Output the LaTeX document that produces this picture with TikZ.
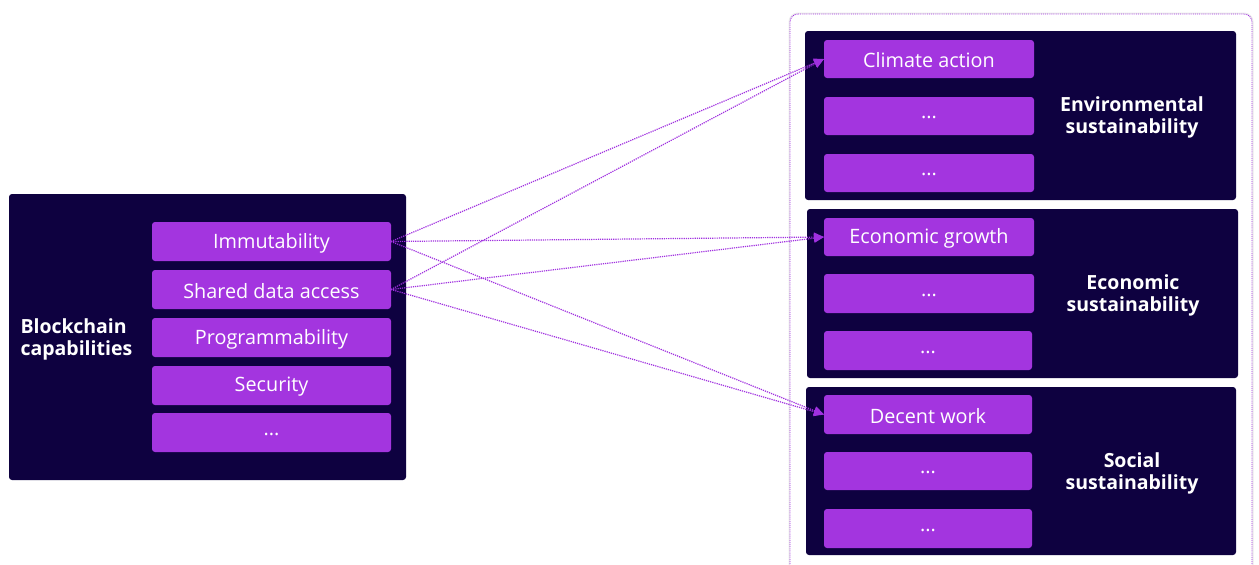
\documentclass[tikz,border=0pt]{standalone}
\usepackage{fontspec}
\setmainfont{Open Sans}
\usetikzlibrary{arrows.meta}
\definecolor{navy}{HTML}{0E0140}
\definecolor{vio}{HTML}{A335DF}
\definecolor{lnk}{HTML}{A030E0}
\tikzset{
  panel/.style={fill=navy, rounded corners=3pt, draw=none},
  item/.style={fill=vio, rounded corners=3pt},
  itxt/.style={text=white, font=\fontsize{19.8}{22}\selectfont},
  ttl/.style={text=white, font=\bfseries\fontsize{19.5}{22}\selectfont, align=center},
  link/.style={draw=lnk, densely dotted, line width=1.2pt, -{Triangle[length=10pt,width=9pt]}},
}
\newcommand{\itm}[6]{\path[item] (#2,#3) rectangle (#4,#5); \node[itxt] (#1) at ({(#2+#4)/2},{(#3+#5)/2+1.5}) {#6}; \coordinate (#1-w) at (#2,{(#3+#5)/2}); \coordinate (#1-e) at (#4,{(#3+#5)/2});}
\begin{document}
\begin{tikzpicture}[x=1pt,y=-1pt]
\useasboundingbox (0,0) rectangle (1259,565);
\fill[white] (0,0) rectangle (1259,565);
% outer dotted box with shadow
\draw[gray!15, line width=3pt, rounded corners=8pt] (790,14) -- (1252,14) -- (1252,600) -- (790,600) -- cycle;
\fill[white, rounded corners=8pt] (790,14) rectangle (1252,600);
\draw[lnk, densely dotted, line width=0.9pt, rounded corners=8pt] (790,14) -- (1252,14) -- (1252,600) -- (790,600) -- cycle;
% left panel
\path[panel] (9,194) rectangle (406,480);
\node[ttl, align=left, anchor=west] (bc) at (17,339) {Blockchain\\capabilities};
\itm{imm}{152}{222}{391}{261}{Immutability}
\itm{sda}{152}{270}{391}{309}{Shared data access}
\itm{prg}{152}{318}{391}{357}{Programmability}
\itm{sec}{152}{366}{391}{405}{Security}
\itm{ld}{152}{413}{391}{452}{...}
% right panels
\path[panel] (805,31) rectangle (1236,200);
\node[ttl] (env) at (1132,117) {Environmental\\sustainability};
\itm{cli}{824}{40}{1034}{78}{Climate action}
\itm{e2}{824}{97}{1034}{135}{...}
\itm{e3}{824}{154}{1034}{192}{...}
\path[panel] (807,209) rectangle (1238,378);
\node[ttl] (eco) at (1133,295) {Economic\\sustainability};
\itm{egr}{824}{218}{1034}{256}{Economic growth}
\itm{c2}{824}{274}{1034}{313}{...}
\itm{c3}{824}{331}{1032}{370}{...}
\path[panel] (806,387) rectangle (1236,555);
\node[ttl] (soc) at (1132,473) {Social\\sustainability};
\itm{dw}{824}{395}{1032}{434}{Decent work}
\itm{s2}{824}{452}{1032}{490}{...}
\itm{s3}{824}{509}{1032}{548}{...}
% links
\draw[link] (imm-e) -- (cli-w);
\draw[link] (imm-e) -- (egr-w);
\draw[link] (imm-e) -- (dw-w);
\draw[link] (sda-e) -- (cli-w);
\draw[link] (sda-e) -- (egr-w);
\draw[link] (sda-e) -- (dw-w);
\end{tikzpicture}
\end{document}
